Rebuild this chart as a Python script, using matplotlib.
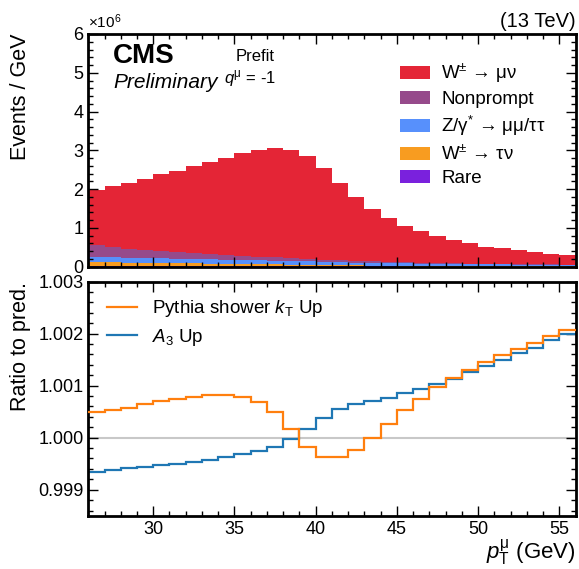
import numpy as np
import matplotlib
matplotlib.use("Agg")
import matplotlib.pyplot as plt
from matplotlib.patches import Patch
from matplotlib.lines import Line2D
from matplotlib.ticker import MultipleLocator

plt.rcParams['font.family'] = ['Liberation Sans', 'DejaVu Sans']
plt.rcParams['mathtext.fontset'] = 'custom'
plt.rcParams['mathtext.rm'] = 'Liberation Sans'
plt.rcParams['mathtext.it'] = 'Liberation Sans:italic'
plt.rcParams['mathtext.bf'] = 'Liberation Sans:bold'

# ---------------- data ----------------
bin_edges = np.arange(26, 57, 1)  # pT bins (GeV)

# stacked components, events / GeV in units of 1e6
rare = [0.012, 0.012, 0.011, 0.011, 0.010, 0.010, 0.010, 0.009, 0.009, 0.009,
        0.008, 0.008, 0.008, 0.007, 0.007, 0.007, 0.006, 0.006, 0.006, 0.005,
        0.005, 0.005, 0.005, 0.004, 0.004, 0.004, 0.004, 0.003, 0.003, 0.003]
w_taunu = [0.110, 0.100, 0.095, 0.090, 0.085, 0.080, 0.075, 0.070, 0.065, 0.060,
           0.055, 0.050, 0.045, 0.040, 0.035, 0.030, 0.026, 0.022, 0.019, 0.016,
           0.014, 0.012, 0.010, 0.009, 0.008, 0.007, 0.006, 0.005, 0.005, 0.004]
z_gamma = [0.130, 0.128, 0.125, 0.122, 0.120, 0.118, 0.115, 0.112, 0.110, 0.108,
           0.105, 0.100, 0.095, 0.090, 0.085, 0.080, 0.076, 0.072, 0.068, 0.064,
           0.060, 0.057, 0.054, 0.051, 0.048, 0.046, 0.044, 0.042, 0.040, 0.038]
nonprompt = [0.300, 0.260, 0.235, 0.210, 0.190, 0.170, 0.150, 0.135, 0.120, 0.105,
             0.090, 0.080, 0.070, 0.060, 0.050, 0.045, 0.040, 0.035, 0.030, 0.027,
             0.024, 0.021, 0.019, 0.017, 0.015, 0.013, 0.012, 0.011, 0.010, 0.009]
w_munu = [1.433, 1.570, 1.704, 1.837, 1.975, 2.102, 2.240, 2.374, 2.506, 2.638,
          2.752, 2.822, 2.792, 2.663, 2.363, 1.998, 1.642, 1.365, 1.127, 0.948,
          0.807, 0.685, 0.592, 0.519, 0.445, 0.400, 0.354, 0.314, 0.272, 0.246]

# ratio to prediction (deviation from 1, in units of 1e-3)
ratio_kt_up = [0.486, 0.530, 0.580, 0.645, 0.700, 0.750, 0.786, 0.818, 0.818, 0.786,
               0.684, 0.486, 0.166, -0.173, -0.377, -0.377, -0.237, -0.010, 0.263, 0.533,
               0.744, 0.970, 1.154, 1.300, 1.450, 1.590, 1.700, 1.830, 1.960, 2.070]
ratio_a3_up = [-0.652, -0.620, -0.590, -0.560, -0.530, -0.500, -0.460, -0.420, -0.377, -0.320,
               -0.256, -0.173, -0.032, 0.166, 0.383, 0.550, 0.640, 0.710, 0.760, 0.850,
               0.940, 1.030, 1.120, 1.260, 1.380, 1.490, 1.620, 1.730, 1.870, 1.990]

stack_labels = ["Rare", r"W$^{\pm}$ → τν", r"Z/γ$^{*}$ → μμ/ττ", "Nonprompt", r"W$^{\pm}$ → μν"]
stack_colors = ["#7a21dd", "#f89c20", "#5790fc", "#964a8b", "#e42536"]

# ---------------- figure ----------------
W, H = 579, 569
fig = plt.figure(figsize=(W / 100, H / 100), dpi=100)
L, R = 88.3 / W, 575.5 / W
ax1 = fig.add_axes([L, 1 - 266.7 / H, R - L, (266.7 - 34) / H])
ax2 = fig.add_axes([L, 1 - 515.7 / H, R - L, (515.7 - 281.7) / H])

# stacked histogram
base = np.zeros(len(w_munu))
for vals, col, lab in zip([rare, w_taunu, z_gamma, nonprompt, w_munu], stack_colors, stack_labels):
    vals = np.asarray(vals)
    ax1.stairs(base + vals, bin_edges, baseline=base, fill=True, color=col, lw=0)
    base = base + vals

ax1.set_xlim(26, 56)
ax1.set_ylim(0, 6)

# ratio panel
ax2.axhline(1.0, color="#c8c8c8", lw=1.5, zorder=1)
ax2.stairs(1 + np.asarray(ratio_kt_up) * 1e-3, bin_edges, color="#ff7f0e", lw=1.6, baseline=None, zorder=3)
ax2.stairs(1 + np.asarray(ratio_a3_up) * 1e-3, bin_edges, color="#1f77b4", lw=1.6, baseline=None, zorder=2)
ax2.set_xlim(26, 56)
ax2.set_ylim(0.9985, 1.003)

tick_fs = 13
for ax in (ax1, ax2):
    ax.xaxis.set_major_locator(MultipleLocator(5))
    ax.xaxis.set_minor_locator(MultipleLocator(1))
    ax.tick_params(which="both", direction="in", top=True, right=True, labelsize=tick_fs)
    ax.tick_params(which="major", length=7, width=1)
    ax.tick_params(which="minor", length=3.5, width=1)
    for s in ax.spines.values():
        s.set_linewidth(2)

ax1.yaxis.set_major_locator(MultipleLocator(1))
ax1.yaxis.set_minor_locator(MultipleLocator(0.2))
ax1.tick_params(labelbottom=False)
ax2.yaxis.set_major_locator(MultipleLocator(0.001))
ax2.yaxis.set_minor_locator(MultipleLocator(0.0002))
ax2.yaxis.set_major_formatter(matplotlib.ticker.FormatStrFormatter("%.3f"))
ax2.tick_params(axis="x", pad=4)

ax1.set_ylabel("Events / GeV", fontsize=15.5, loc="top")
ax2.set_ylabel("Ratio to pred.", fontsize=15.5, loc="top")
ax2.set_xlabel(r"$p_{\mathrm{T}}^{\mathrm{\mu}}$ (GeV)", fontsize=16, loc="right")
ax1.yaxis.set_label_coords(-0.118, 1.0)
ax2.yaxis.set_label_coords(-0.118, 1.0)
ax2.xaxis.set_label_coords(1.0, -0.095)

# texts
ax1.text(0.0, 1.015, r"×10$^{6}$", transform=ax1.transAxes, fontsize=11, ha="left", va="bottom")
ax1.text(1.0, 1.015, "(13 TeV)", transform=ax1.transAxes, fontsize=14.5, ha="right", va="bottom")
ax1.text(0.051, 0.905, "CMS", transform=ax1.transAxes, fontsize=20, fontweight="bold", ha="left", va="center")
ax1.text(0.051, 0.79, "Preliminary", transform=ax1.transAxes, fontsize=15, style="italic", ha="left", va="center")
ax1.text(0.303, 0.905, "Prefit", transform=ax1.transAxes, fontsize=12, ha="left", va="center")
ax1.text(0.278, 0.81, r"$q^{\mathrm{\mu}}$ = -1", transform=ax1.transAxes, fontsize=12, ha="left", va="center")

handles = [Patch(facecolor=c, edgecolor="none") for c in stack_colors[::-1]]
ax1.legend(handles, stack_labels[::-1], loc="upper left", bbox_to_anchor=(0.64, 0.88),
           frameon=False, fontsize=13.5, handlelength=1.6, handleheight=0.7,
           handletextpad=0.6, labelspacing=0.32, borderpad=0, borderaxespad=0)

lh = [Line2D([], [], color="#ff7f0e", lw=1.6), Line2D([], [], color="#1f77b4", lw=1.6)]
ax2.legend(lh, [r"Pythia shower $k_{\mathrm{T}}$ Up", r"$A_{3}$ Up"], loc="upper left",
           bbox_to_anchor=(0.038, 0.93), frameon=False, fontsize=13.5, handlelength=1.6,
           handletextpad=0.8, labelspacing=0.4, borderpad=0, borderaxespad=0)

fig.savefig("out.png", dpi=100)
